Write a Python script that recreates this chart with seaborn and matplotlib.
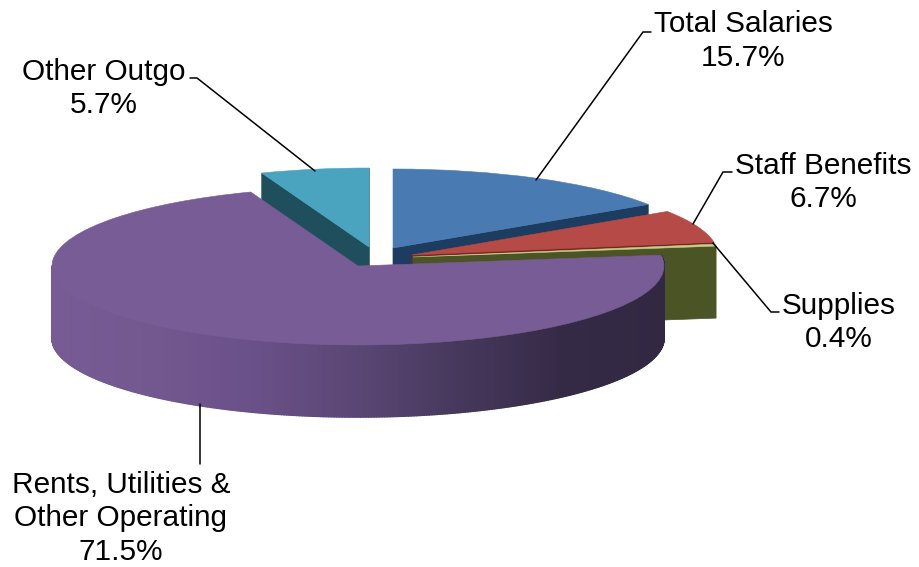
import numpy as np
import matplotlib
matplotlib.use("Agg")
import matplotlib.pyplot as plt
from matplotlib.collections import PolyCollection
from matplotlib.patches import Polygon
from matplotlib.transforms import Affine2D
import seaborn as sns

# Budget shares, clockwise from twelve o'clock
categories = ["Total Salaries", "Staff Benefits", "Supplies",
              "Rents, Utilities &\nOther Operating", "Other Outgo"]
shares = [15.7, 6.7, 0.4, 71.5, 5.7]

top_colors = ["#4a7ab2", "#b54a46", "#c9cf8a", "#785c96", "#4aa3bf"]
wall_colors = ["#1c3c60", "#7a2424", "#4a5424", "#785c96", "#1f4f5c"]
rim_shades = ["#775b94", "#735890", "#6a5088", "#5a4674", "#46385c", "#352a46", "#332842"]

# Pixel-based drawing space: ellipse radii, slab depth and slice positions
RX, RY, DEPTH = 306.0, 79.0, 72.0
CENTERS = [(393, 248), (412, 255), (413, 257), (358, 266), (369, 247)]
DRAW_ORDER = [4, 0, 1, 2, 3]

sns.set_theme(style="white")
plt.rcParams["font.family"] = ["Liberation Sans", "DejaVu Sans"]

fig = plt.figure(figsize=(9.2, 5.67), dpi=100, facecolor="white")
ax = fig.add_axes([0, 0, 1, 1])

wedges, _ = ax.pie(shares, startangle=90, counterclock=False, radius=1.0)
ax.set_aspect("auto")
ax.set_xlim(0, 920)
ax.set_ylim(567, 0)
ax.axis("off")


def rim_point(center, angle):
    a = np.deg2rad(angle)
    return center[0] + RX * np.cos(a), center[1] - RY * np.sin(a)


def cut_face(center, angle, color, z):
    x, y = rim_point(center, angle)
    cx, cy = center
    ax.add_patch(Polygon([(cx, cy), (x, y), (x, y + DEPTH), (cx, cy + DEPTH)],
                         closed=True, facecolor=color, edgecolor=color, lw=0.5, zorder=z))


for rank, i in enumerate(DRAW_ORDER):
    w = wedges[i]
    c = CENTERS[i]
    z = 2 + rank * 2
    if i in (0, 1, 2):
        # Only the lower cut face of these slices can be seen
        cut_face(c, w.theta1, wall_colors[i], z)
    elif i == 4:
        cut_face(c, w.theta1, wall_colors[i], z)
        cut_face(c, w.theta2, wall_colors[i], z)
    else:
        # Curved outer rim of the large slice, shaded from left to right
        end = w.theta2 % 360
        angles = np.arange(180.0, end + 360.0 + 0.5, 0.5)
        quads, tones = [], []
        for a0, a1 in zip(angles[:-1], angles[1:]):
            x0, y0 = rim_point(c, a0)
            x1, y1 = rim_point(c, a1)
            quads.append([(x0, y0), (x1, y1), (x1, y1 + DEPTH), (x0, y0 + DEPTH)])
            tones.append((x0 + x1) / 2)
        stops = sns.blend_palette(rim_shades, n_colors=256)
        t = (np.array(tones) - (c[0] - RX)) / (2 * RX)
        cols = [stops[int(np.clip(v, 0, 1) * 255)] for v in t]
        ax.add_collection(PolyCollection(quads, facecolors=cols, edgecolors=cols,
                                         linewidths=1.2, zorder=z))
    w.set_facecolor(top_colors[i])
    w.set_edgecolor(top_colors[i])
    w.set_linewidth(0.4)
    w.set_zorder(z + 1)
    w.set_transform(Affine2D().scale(RX, -RY).translate(*c) + ax.transData)

# Leader lines and labels (anchored on the baseline of the last line)
leaders = [
    [(536, 180), (643, 32), (651, 32)],
    [(693, 224), (723, 172), (732, 172)],
    [(713, 243), (771, 312), (779, 312)],
    [(200.5, 404), (200.5, 464)],
    [(315, 171), (197, 78), (190, 78)],
]
label_positions = [(743, 66), (823, 207), (839, 347), (121, 560), (103.5, 113)]

for pts, (lx, ly), name, val in zip(leaders, label_positions, categories, shares):
    xs, ys = zip(*pts)
    ax.plot(xs, ys, color="black", lw=1.1, zorder=20, solid_joinstyle="miter")
    ax.text(lx, ly, f"{name}\n{val}%", ha="center", va="baseline", multialignment="center",
            fontsize=21.4, color="black", linespacing=1.25, zorder=21)

fig.savefig("out.png", dpi=100, facecolor="white")
